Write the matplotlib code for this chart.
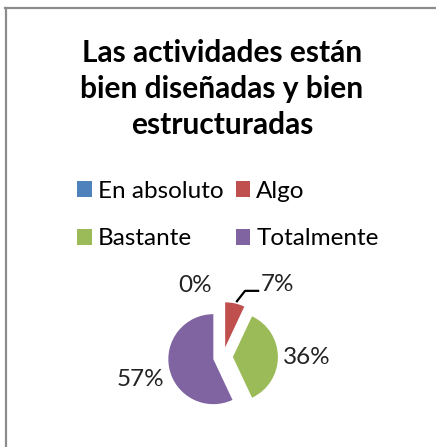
import matplotlib
matplotlib.use("Agg")
import matplotlib.pyplot as plt
from matplotlib.lines import Line2D
from matplotlib.patches import Patch

# Data.
categories = ["En absoluto", "Algo", "Bastante", "Totalmente"]
shares = [0, 7, 36, 57]
colors = ["#4F81BD", "#C0504D", "#9BBB59", "#8064A2"]
title = "Las actividades están\nbien diseñadas y bien\nestructuradas"

W, H = 436, 447
plt.rcParams["font.family"] = ["Lato", "DejaVu Sans"]

fig = plt.figure(figsize=(W / 100, H / 100), dpi=100)

# Chart frame (only top and left edges show in the crop).
fig.add_artist(Line2D([5 / W, 1], [1 - 8 / H, 1 - 8 / H], color="#8c8c8c", lw=1.6))
fig.add_artist(Line2D([6 / W, 6 / W], [0, 1 - 8 / H], color="#8c8c8c", lw=1.6))

fig.text(222 / W, 1 - 89 / H, title, ha="center", va="center",
         fontsize=21.5, fontweight="bold", linespacing=1.33, color="black")

# Legend fills column-wise; reorder so rows read as in the reference.
handles = [Patch(facecolor=c, label=l) for c, l in zip(colors, categories)]
handles = [handles[0], handles[2], handles[1], handles[3]]
fig.legend(handles=handles, loc="center", bbox_to_anchor=(228 / W, 1 - 215 / H),
           ncol=2, frameon=False, fontsize=17.5, handlelength=0.6,
           handleheight=0.6, handletextpad=0.25, columnspacing=0.5,
           labelspacing=1.1)

# Pie axes: radius 1 == 45 px, centre at (223, 357) px.
r_px = 45
cx, cy = 223, 357
ax = fig.add_axes([(cx - 2.5 * r_px) / W, (H - cy - 2 * r_px) / H,
                   5 * r_px / W, 4 * r_px / H])

ax.pie(shares, colors=colors, explode=[0.22] * 4, startangle=90,
       counterclock=False, radius=1, wedgeprops=dict(linewidth=0))
ax.set_xlim(-2.5, 2.5)
ax.set_ylim(-2, 2)
ax.set_axis_off()

label_pos = [(-0.62, 1.6), (1.2, 1.62), (1.85, 0.0), (-1.84, -0.51)]
total = sum(shares)
for v, (x, y) in zip(shares, label_pos):
    ax.text(x, y, f"{round(100 * v / total)}%", ha="center", va="center",
            fontsize=17.5, color="#222222")

ax.plot([0.31, 0.49, 0.78], [1.24, 1.47, 1.47], color="black", lw=1.6)

fig.savefig("out.png", dpi=100)
